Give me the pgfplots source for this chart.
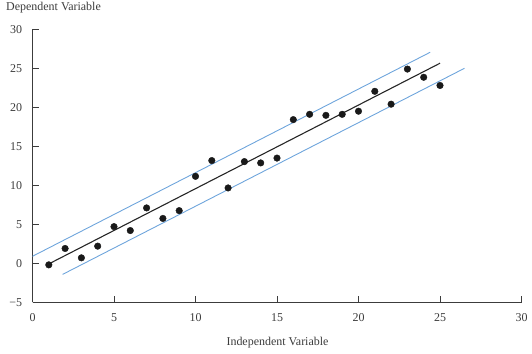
\documentclass[border=0pt]{standalone}
\usepackage{pgfplots}
\pgfplotsset{compat=1.18}
\usepackage{fontspec}
\setmainfont{Liberation Serif}
\definecolor{bandblue}{RGB}{110,165,220}
\definecolor{axgray}{RGB}{60,60,60}
\begin{document}
\begin{tikzpicture}
\path[use as bounding box] (-32.5bp,-51.7bp) rectangle (499.5bp,302.3bp);
\begin{axis}[
  at={(0,0)}, anchor=south west,
  scale only axis,
  width=489bp, height=273bp,
  xmin=0, xmax=30, ymin=-5, ymax=30,
  axis x line*=bottom, axis y line*=left,
  axis line style={axgray, line width=0.8bp},
  tick style={axgray, line width=0.8bp},
  tick align=inside,
  major tick length=6bp,
  xtick={0,5,10,15,20,25,30},
  ytick={-5,0,5,10,15,20,25,30},
  yticklabels={−5,0,5,10,15,20,25,30},
  /pgf/number format/assume math mode=true,
  tick label style={font=\fontsize{12}{14}\selectfont, text=axgray},
  xticklabel style={yshift=-8bp},
  yticklabel style={xshift=-7bp},
  xlabel={Independent Variable},
  ylabel={Dependent Variable},
  label style={font=\fontsize{12}{14}\selectfont, text=axgray},
  xlabel style={at={(axis description cs:0.501,-0.149)}, anchor=center},
  ylabel style={at={(axis description cs:0.043,1.078)}, rotate=-90, anchor=center},
  clip=false,
]
\addplot[bandblue, line width=0.9bp] coordinates {(0,0.9) (24.4,27.06)};
\addplot[bandblue, line width=0.9bp] coordinates {(1.85,-1.42) (26.5,25.0)};
\addplot[black!85, line width=1.1bp] coordinates {(1,-0.08) (25,25.65)};
\addplot[only marks, mark=*, mark size=3.3bp, mark options={fill=black!90, draw=black!90}] coordinates {
(1,-0.2) (2,1.9) (3,0.7) (4,2.2) (5,4.7) (6,4.2) (7,7.1) (8,5.75) (9,6.75)
(10,11.15) (11,13.17) (12,9.66) (13,13.04) (14,12.87) (15,13.49)
(16,18.42) (17,19.1) (18,18.97) (19,19.1) (20,19.5) (21,22.05)
(22,20.4) (23,24.9) (24,23.85) (25,22.8)
};
\end{axis}
\end{tikzpicture}
\end{document}
